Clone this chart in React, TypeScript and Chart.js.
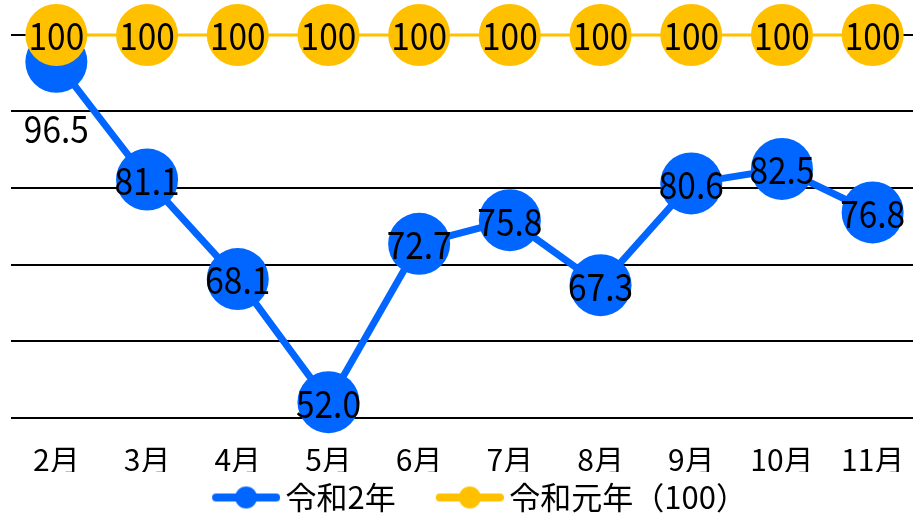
import { useEffect, useRef } from "react";
import { Chart, registerables } from "chart.js";

Chart.register(...registerables);

const categories = ["2月", "3月", "4月", "5月", "6月", "7月", "8月", "9月", "10月", "11月"];
const seriesR2 = [96.5, 81.1, 68.1, 52.0, 72.7, 75.8, 67.3, 80.6, 82.5, 76.8];
const seriesR1 = [100, 100, 100, 100, 100, 100, 100, 100, 100, 100];
const seriesNames = ["令和2年", "令和元年（100）"];
const yMin = 50;
const yMax = 100;
const yStep = 10;

const BLUE = "#0066FF";
const GOLD = "#FFC000";
const FONT = '"Noto Sans CJK JP", "Noto Sans", sans-serif';

function legendIcon(color: string): HTMLCanvasElement {
  const c = document.createElement("canvas");
  c.width = 108;
  c.height = 26;
  const ctx = c.getContext("2d")!;
  ctx.strokeStyle = color;
  ctx.lineWidth = 8;
  ctx.lineCap = "round";
  ctx.beginPath();
  ctx.moveTo(44, 13);
  ctx.lineTo(104, 13);
  ctx.stroke();
  ctx.fillStyle = color;
  ctx.beginPath();
  ctx.arc(74, 13, 11, 0, Math.PI * 2);
  ctx.fill();
  return c;
}

const labelPlugin = {
  id: "valueLabels",
  afterDatasetsDraw(chart: any) {
    const ctx = chart.ctx as CanvasRenderingContext2D;
    ctx.save();
    ctx.font = `38px ${FONT}`;
    ctx.fillStyle = "#000";
    ctx.textAlign = "center";
    ctx.textBaseline = "middle";
    chart.data.datasets.forEach((ds: any, i: number) => {
      const meta = chart.getDatasetMeta(i);
      meta.data.forEach((pt: any, j: number) => {
        const v = ds.data[j] as number;
        let y = pt.y;
        if (i === 0) {
          const other = chart.getDatasetMeta(1).data[j];
          if (other && Math.abs(other.y - pt.y) < 40) y = pt.y + 66;
        }
        const text = i === 0 ? v.toFixed(1) : String(v);
        ctx.save();
        ctx.translate(pt.x, y + 1);
        ctx.scale(0.88, 1);
        ctx.fillText(text, 0, 0);
        ctx.restore();
      });
    });
    ctx.restore();
  },
};

export default function App() {
  const ref = useRef<HTMLCanvasElement | null>(null);

  useEffect(() => {
    document.body.style.margin = "0";
    document.body.style.overflow = "hidden";
    const icons = [legendIcon(BLUE), legendIcon(GOLD)];
    const chart = new Chart(ref.current!, {
      type: "line",
      data: {
        labels: categories,
        datasets: [
          {
            label: seriesNames[0],
            data: seriesR2,
            borderColor: BLUE,
            backgroundColor: BLUE,
            borderWidth: 7,
            pointRadius: 31,
            pointHoverRadius: 31,
            pointBackgroundColor: BLUE,
            pointBorderWidth: 0,
            order: 1,
            clip: false as any,
          },
          {
            label: seriesNames[1],
            data: seriesR1,
            borderColor: GOLD,
            backgroundColor: GOLD,
            borderWidth: 3,
            pointRadius: 31,
            pointHoverRadius: 31,
            pointBackgroundColor: GOLD,
            pointBorderWidth: 0,
            order: 0,
            clip: false as any,
          },
        ],
      },
      options: {
        animation: false,
        responsive: true,
        maintainAspectRatio: false,
        events: [],
        layout: { autoPadding: false, padding: { left: 11, top: 35, right: 0, bottom: 0 } },
        elements: { point: { pointStyle: "circle" } },
        scales: {
          x: {
            offset: true,
            grid: { display: false, drawTicks: true, tickLength: 29.5 },
            border: { display: false },
            ticks: {
              color: "#000",
              font: { family: FONT, size: 30 },
              padding: -5.5,
              maxRotation: 0,
              autoSkip: false,
            },
          },
          y: {
            min: yMin,
            max: yMax,
            ticks: { display: false, stepSize: yStep },
            grid: { color: "#000", lineWidth: 2, drawTicks: false },
            border: { display: false },
          },
        },
        plugins: {
          tooltip: { enabled: false },
          legend: {
            position: "bottom",
            labels: {
              usePointStyle: true,
              pointStyleWidth: 88,
              padding: 10,
              color: "#000",
              font: { family: FONT, size: 31 },
              sort: (a: any, b: any) => a.datasetIndex - b.datasetIndex,
              generateLabels: (c: any) => {
                const items = Chart.defaults.plugins.legend.labels.generateLabels(c);
                items.forEach((it: any) => {
                  it.pointStyle = icons[it.datasetIndex];
                  it.lineWidth = 0;
                });
                return items;
              },
            },
          },
        },
      },
      plugins: [labelPlugin],
    });
    return () => chart.destroy();
  }, []);

  return (
    <div style={{ position: "fixed", left: 0, top: 0, width: 918, height: 523 }}>
      <canvas ref={ref} />
    </div>
  );
}
